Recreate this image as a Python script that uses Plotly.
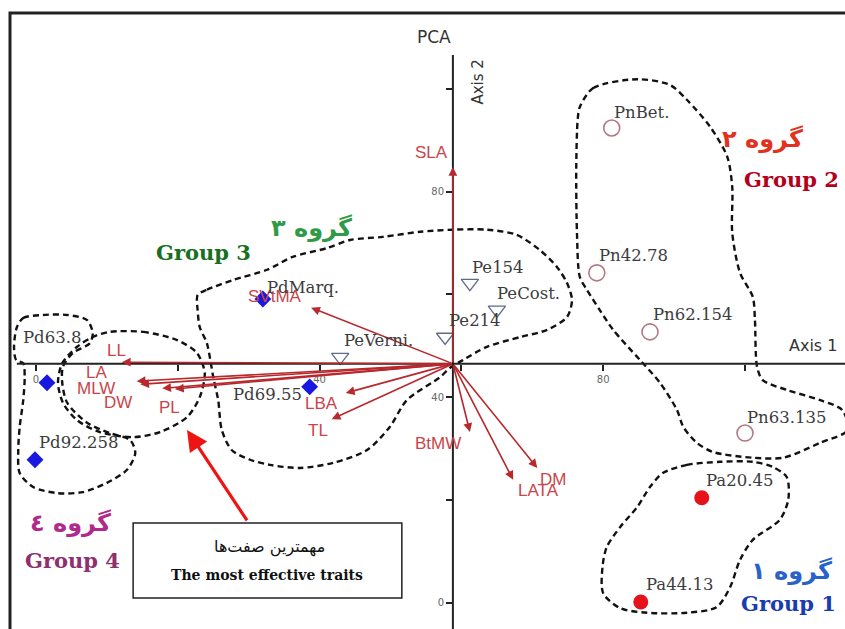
import plotly.graph_objects as go

# ---------------- data ----------------
acc_names = ["PdMarq.", "Pd63.8", "Pd92.258", "Pd69.55", "PeVerni.", "Pe214", "Pe154", "PeCost.",
             "PnBet.", "Pn42.78", "Pn62.154", "Pn63.135", "Pa20.45", "Pa44.13"]
acc_x = [32.0, 1.55, -0.14, 38.6, 42.9, 57.7, 61.2, 65.0, 81.2, 79.1, 86.6, 100.0, 93.9, 85.3]
acc_y = [59.1, 42.8, 27.8, 42.0, 47.8, 51.7, 62.2, 57.0, 92.4, 64.2, 52.7, 33.0, 20.4, 0.1]
acc_group = ["Pd", "Pd", "Pd", "Pd", "Pe", "Pe", "Pe", "Pe", "Pn", "Pn", "Pn", "Pn", "Pa", "Pa"]

trait_names = ["SLA", "SVtMA", "LL", "LA", "MLW", "DW", "PL", "LBA", "TL", "BtMW", "LATA", "DM"]
trait_x = [58.8, 38.8, 12.1, 14.2, 14.7, 17.8, 19.6, 43.7, 41.7, 61.2, 67.3, 70.7]
trait_y = [84.8, 57.4, 46.8, 43.1, 42.5, 41.7, 41.6, 40.8, 35.7, 33.2, 23.9, 26.2]
origin = (58.8, 46.5)

tick_vals = [0, 20, 40, 60, 80, 100]
tick_text = ["0", "", "40", "", "80", ""]

# group outlines (hand-drawn envelopes in data units)
g1_x = [88.4, 91.8, 96.5, 101.1, 103.9, 105.9, 106.1, 104.9, 101.1, 99.3, 97.9, 96.0, 91.8, 86.2, 82.4, 80.0, 79.9, 80.5, 82.4, 84.8, 86.6, 88.4]
g1_y = [25.2, 26.8, 27.4, 27.4, 26.4, 24.4, 20.0, 16.1, 12.2, 8.3, 3.0, -0.9, -2.0, -2.0, -1.1, 1.8, 6.9, 10.8, 14.7, 18.6, 22.5, 25.2]
g2_x = [76.7, 78.6, 84.8, 89.4, 91.8, 95.1, 97.5, 98.2, 98.2, 99.3, 101.1, 101.4, 101.7, 102.5, 105.9, 110.6, 113.7, 114.5, 110.6, 105.4, 101.1, 95.5, 93.2, 91.3, 90.4, 88.0, 85.2, 81.4, 79.5, 77.7, 76.7, 76.3, 76.2, 76.4, 76.7]
g2_y = [96.5, 100.2, 101.9, 100.8, 97.9, 92.6, 86.8, 80.9, 72.0, 64.2, 59.5, 55.0, 45.9, 43.3, 41.4, 39.4, 37.5, 33.6, 31.1, 28.2, 28.2, 29.3, 31.1, 34.2, 37.5, 42.8, 47.2, 53.1, 57.0, 60.9, 63.4, 72.0, 84.8, 94.0, 96.5]
g3_x = [22.8, 24.1, 27.8, 32.6, 36.2, 41.0, 44.3, 48.9, 54.2, 58.8, 63.6, 67.8, 71.1, 73.5, 74.9, 75.6, 74.9, 72.1, 68.3, 63.6, 60.2, 58.4, 57.0, 52.3, 49.9, 46.7, 41.9, 37.2, 33.0, 30.2, 27.6, 26.2, 25.7, 25.0, 24.1, 23.1, 22.8, 22.8]
g3_y = [59.9, 60.9, 62.8, 64.8, 67.3, 69.0, 70.6, 71.2, 72.2, 72.6, 72.6, 71.6, 68.6, 65.3, 62.2, 58.9, 55.6, 53.1, 51.7, 49.8, 47.2, 45.7, 43.9, 39.4, 34.2, 29.7, 27.2, 26.2, 26.8, 27.8, 29.7, 33.6, 39.4, 43.9, 50.5, 53.6, 56.9, 59.9]
g4_x = [-2.7, -1.8, 1.0, 4.4, 7.2, 8.0, 7.6, 5.2, 3.8, 3.7, 4.4, 7.2, 10.4, 13.3, 14.0, 12.8, 10.0, 6.6, 3.0, -0.4, -2.3, -2.5, -2.3, -1.8, -1.6, -1.8, -2.8, -3.1, -2.7]
g4_y = [53.6, 55.4, 56.0, 56.0, 55.0, 52.5, 50.5, 48.6, 45.9, 42.8, 38.9, 35.0, 33.0, 31.6, 29.1, 25.8, 23.3, 21.5, 21.3, 22.5, 25.2, 29.7, 34.2, 39.4, 43.9, 46.6, 47.2, 49.8, 53.6]
key_x = [10.4, 15.1, 19.9, 22.7, 23.8, 23.1, 21.3, 17.5, 13.7, 9.0, 5.8, 3.8, 3.1, 3.7, 5.8, 8.0, 10.4]
key_y = [52.7, 52.7, 51.1, 48.6, 44.7, 40.0, 36.1, 33.2, 32.2, 33.2, 35.5, 38.9, 42.8, 46.6, 49.8, 51.7, 52.7]

# ---------------- styles ----------------
marker_style = {
    "Pd": dict(symbol="diamond", size=13, color="#1818e0"),
    "Pe": dict(symbol="triangle-down-open", size=15, color="#5f6a88", line=dict(width=1.3)),
    "Pn": dict(symbol="circle-open", size=16, color="#b47884", line=dict(width=1.6)),
    "Pa": dict(symbol="circle", size=15, color="#e5121a"),
}
# label placement (xanchor, xshift px, yshift px)
acc_lab = [("left", 2, 12), ("left", -26, 45), ("left", 2, 17), ("right", -6, -8),
           ("left", 2, 17), ("left", 2, 17), ("left", 0, 16), ("left", -2, 16),
           ("left", 0, 16), ("left", 0, 17), ("left", 1, 17), ("left", 0, 16),
           ("left", 2, 17), ("left", 3, 17)]
trait_lab = [(-21, 15), (-36, 11), (-5, 12), (-40, 9), (-44, -4), (-44, -14), (-5, -19),
             (-24, -11), (-14, -11), (-32, -11), (25, -11), (16, -12)]

ARROW_C = "#b8282c"
TLAB_C = "#c9454b"
SERIF = "DejaVu Serif"
SANS = "Liberation Sans"

fig = go.Figure()

for gx, gy in [(g1_x, g1_y), (g2_x, g2_y), (g3_x, g3_y), (g4_x, g4_y), (key_x, key_y)]:
    fig.add_trace(go.Scatter(x=gx, y=gy, mode="lines", hoverinfo="skip", showlegend=False,
                             line=dict(color="#111111", width=2.4, dash="6px,4px",
                                       shape="spline", smoothing=0.8)))

for grp in ["Pd", "Pe", "Pn", "Pa"]:
    idx = [i for i, g in enumerate(acc_group) if g == grp]
    fig.add_trace(go.Scatter(x=[acc_x[i] for i in idx], y=[acc_y[i] for i in idx],
                             mode="markers", marker=marker_style[grp], showlegend=False,
                             cliponaxis=False, hovertext=[acc_names[i] for i in idx]))

annotations = []
# trait vectors
for n, tx, ty in zip(trait_names, trait_x, trait_y):
    annotations.append(dict(x=tx, y=ty, ax=origin[0], ay=origin[1], xref="x", yref="y",
                            axref="x", ayref="y", text="", showarrow=True, arrowhead=2,
                            arrowsize=1.1, arrowwidth=1.6, arrowcolor=ARROW_C, standoff=0))
for n, tx, ty, (dx, dy) in zip(trait_names, trait_x, trait_y, trait_lab):
    annotations.append(dict(x=tx, y=ty, xref="x", yref="y", text=n, showarrow=False,
                            xshift=dx, yshift=dy, font=dict(family=SANS, size=17, color=TLAB_C)))
# accession labels
for n, x, y, (xa, dx, dy) in zip(acc_names, acc_x, acc_y, acc_lab):
    annotations.append(dict(x=x, y=y, xref="x", yref="y", text=n, showarrow=False,
                            xanchor=xa, xshift=dx, yshift=dy,
                            font=dict(family=SERIF, size=16.5, color="#3c3c3c")))

# titles
annotations += [
    dict(x=56.1, y=110.2, xref="x", yref="y", text="PCA", showarrow=False,
         font=dict(family="DejaVu Sans", size=17, color="#333")),
    dict(x=62.3, y=101.4, xref="x", yref="y", text="Axis 2", textangle=-90, showarrow=False,
         font=dict(family="DejaVu Sans", size=15, color="#333")),
    dict(x=105.9, y=50.1, xref="x", yref="y", text="Axis 1", xanchor="left", showarrow=False,
         font=dict(family="DejaVu Sans", size=16, color="#333")),
]
# group labels
grp_labels = [
    ("گروه ٣", 38.9, 72.9, "#2f9a48", "DejaVu Sans", 24),
    ("Group 3", 23.6, 68.1, "#17701d", SERIF, 21),
    ("گروه ٢", 102.4, 90.3, "#e0321f", "DejaVu Sans", 24),
    ("Group 2", 106.5, 82.3, "#b3001b", SERIF, 21),
    ("گروه ٤", 4.9, 15.5, "#b02a8c", "DejaVu Sans", 24),
    ("Group 4", 5.2, 8.1, "#8e2f6e", SERIF, 21),
    ("گروه ١", 106.6, 6.1, "#2a63c8", "DejaVu Sans", 24),
    ("Group 1", 106.1, -0.1, "#1a3caf", SERIF, 21),
]
for t, x, y, c, f, s in grp_labels:
    annotations.append(dict(x=x, y=y, xref="x", yref="y", text="<b>%s</b>" % t,
                            showarrow=False, font=dict(family=f, size=s, color=c)))

# callout
annotations += [
    dict(x=21.3, y=33.6, ax=29.9, ay=15.7, xref="x", yref="y", axref="x", ayref="y", text="",
         showarrow=True, arrowhead=2, arrowsize=1.3, arrowwidth=3.2, arrowcolor="#ee1414", standoff=0),
    dict(x=33.0, y=10.9, xref="x", yref="y", text="مهمترین صفت‌ها", showarrow=False,
         font=dict(family="DejaVu Sans", size=16, color="#111")),
    dict(x=32.6, y=5.3, xref="x", yref="y", text="<b>The most effective traits</b>", showarrow=False,
         font=dict(family=SERIF, size=14, color="#111")),
]

shapes = [
    # axes lines
    dict(type="line", xref="x", yref="y", x0=-2.7, x1=120, y0=origin[1], y1=origin[1],
         line=dict(color="#222", width=2)),
    dict(type="line", xref="x", yref="y", x0=origin[0], x1=origin[0], y0=-8, y1=106.6,
         line=dict(color="#222", width=2)),
    # callout box
    dict(type="rect", xref="x", yref="y", x0=13.7, x1=51.6, y0=0.9, y1=15.5,
         line=dict(color="#222", width=1.5), fillcolor="white", layer="above"),
    # outer frame
    dict(type="rect", xref="paper", yref="paper", x0=10 / 845, x1=1.05, y0=-0.05, y1=1 - 13 / 629,
         line=dict(color="#222", width=3)),
]

W, H = 845, 629
x_range = [-36 / 7.09, (W - 36) / 7.09]
y_range = [(602.5 - H) / 5.135, 602.5 / 5.135]

fig.update_layout(
    width=W, height=H, margin=dict(l=0, r=0, t=0, b=0),
    paper_bgcolor="white", plot_bgcolor="white",
    annotations=annotations, shapes=shapes, showlegend=False,
    xaxis=dict(range=x_range, showgrid=False, zeroline=False, showline=False,
               anchor="free", position=(H - 363.5) / H, side="bottom",
               tickmode="array", tickvals=tick_vals, ticktext=tick_text,
               ticks="outside", ticklen=6, tickwidth=1.5, tickcolor="#222",
               tickfont=dict(family="DejaVu Sans", size=10, color="#666")),
    yaxis=dict(range=y_range, showgrid=False, zeroline=False, showline=False,
               anchor="free", position=453 / W, side="left",
               tickmode="array", tickvals=tick_vals, ticktext=tick_text,
               ticks="outside", ticklen=7, tickwidth=1.5, tickcolor="#222",
               tickfont=dict(family="DejaVu Sans", size=10, color="#666")),
)

fig.write_html("out.html", config={"displayModeBar": False},
               post_script="document.body.style.margin='0px';document.body.style.overflow='hidden';")
